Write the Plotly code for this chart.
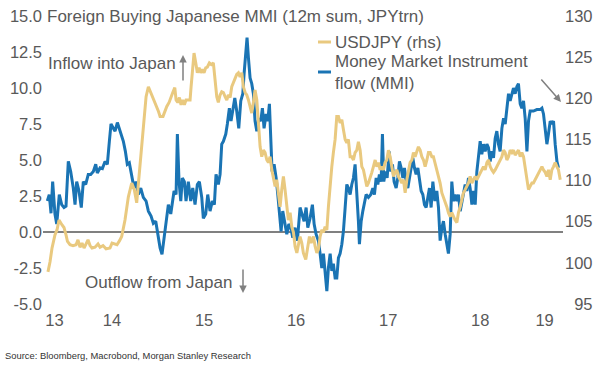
import plotly.graph_objects as go

# ---------------- data ----------------
# time as decimal years
mmi_t = [
    2013.797, 2013.818, 2013.837, 2013.855, 2013.880, 2013.899, 2013.927, 2013.953, 2013.978, 2014.000,
    2014.025, 2014.051, 2014.079, 2014.098, 2014.116, 2014.141, 2014.166, 2014.188, 2014.214, 2014.242,
    2014.268, 2014.297, 2014.323, 2014.340, 2014.370, 2014.395, 2014.424, 2014.449, 2014.471, 2014.489,
    2014.514, 2014.533, 2014.558, 2014.579, 2014.601, 2014.623, 2014.645, 2014.666, 2014.688, 2014.714,
    2014.739, 2014.761, 2014.786, 2014.812, 2014.840, 2014.870, 2014.895, 2014.924, 2014.949, 2014.975,
    2014.997, 2015.022, 2015.043, 2015.065, 2015.087, 2015.112, 2015.138, 2015.174, 2015.196, 2015.210,
    2015.228, 2015.247, 2015.264, 2015.286, 2015.304, 2015.329, 2015.355, 2015.377, 2015.402, 2015.427,
    2015.449, 2015.475, 2015.492, 2015.518, 2015.540, 2015.565, 2015.590, 2015.612, 2015.630, 2015.655,
    2015.674, 2015.692, 2015.710, 2015.736, 2015.753, 2015.775, 2015.793, 2015.812, 2015.834, 2015.855,
    2015.877, 2015.899, 2015.921, 2015.935, 2015.953, 2015.967, 2015.982, 2016.000, 2016.018, 2016.036,
    2016.054, 2016.073, 2016.095, 2016.116, 2016.134, 2016.152, 2016.174, 2016.192, 2016.210, 2016.225,
    2016.239, 2016.261, 2016.283, 2016.301, 2016.318, 2016.337, 2016.355, 2016.377, 2016.399, 2016.421,
    2016.442, 2016.464, 2016.489, 2016.514, 2016.543, 2016.587, 2016.609, 2016.627, 2016.652, 2016.677,
    2016.696, 2016.717, 2016.742, 2016.761, 2016.779, 2016.797, 2016.815, 2016.834, 2016.851, 2016.870,
    2016.888, 2016.905, 2016.924, 2016.942, 2016.960, 2016.978, 2016.997, 2017.014, 2017.033, 2017.051,
    2017.068, 2017.087, 2017.105, 2017.123, 2017.141, 2017.160, 2017.177, 2017.188, 2017.207, 2017.225,
    2017.242, 2017.261, 2017.286, 2017.312, 2017.334, 2017.351, 2017.370, 2017.388, 2017.405, 2017.424,
    2017.438, 2017.453, 2017.471, 2017.489, 2017.511, 2017.529, 2017.547, 2017.565, 2017.587, 2017.605,
    2017.623, 2017.641, 2017.660, 2017.677, 2017.696, 2017.714, 2017.732, 2017.750, 2017.768, 2017.786,
    2017.804, 2017.823, 2017.840, 2017.859, 2017.877, 2017.895, 2017.913, 2017.932, 2017.949, 2017.967,
    2017.986, 2018.008, 2018.029, 2018.047, 2018.065, 2018.084, 2018.101, 2018.120, 2018.138, 2018.155,
    2018.174, 2018.192, 2018.210, 2018.228, 2018.247, 2018.264, 2018.283, 2018.301, 2018.318, 2018.337,
    2018.355, 2018.373, 2018.391, 2018.410, 2018.427, 2018.446, 2018.464, 2018.482, 2018.500, 2018.518,
    2018.536, 2018.554, 2018.573, 2018.590, 2018.609, 2018.627, 2018.645, 2018.663, 2018.681, 2018.699,
    2018.717, 2018.736, 2018.754, 2018.772, 2018.790, 2018.808, 2018.826, 2018.845, 2018.862, 2018.880,
    2018.899, 2018.916, 2018.935, 2018.953, 2018.971, 2018.989, 2019.008, 2019.025, 2019.043, 2019.079,
    2019.116, 2019.152, 2019.171, 2019.188, 2019.207, 2019.225, 2019.242, 2019.261, 2019.279, 2019.297,
    2019.315, 2019.334, 2019.351,
]
mmi_flow = [
    2.15, 2.6, 1.3, 3.5, 1.25, 0.55, 2.6, 1.9, 1.7, 1.8,
    4.9, 4.2, 3.05, 1.9, 3.5, 2.85, 1.7, 3.5, 3.3, 4.0,
    4.0, 4.2, 4.7, 4.1, 4.45, 4.4, 4.9, 4.7, 6.3, 7.5,
    7.2, 7.0, 7.6, 7.2, 6.8, 6.3, 5.6, 4.7, 4.8, 4.0,
    3.05, 3.5, 2.6, 3.05, 2.4, 2.15, 1.45, 1.1, 0.6, 0.75,
    -0.15, -1.1, -1.55, -0.4, 0.95, 1.9, 1.25, 2.85, 2.6, 6.8,
    3.5, 2.15, 3.75, 3.5, 2.15, 3.5, 2.15, 3.05, 1.9, 3.3,
    3.5, 2.4, 0.95, 1.25, 2.6, 1.45, 2.15, 1.9, 4.0, 3.3,
    4.0, 6.1, 6.3, 6.8, 7.5, 8.6, 7.7, 8.4, 9.3, 8.4,
    7.2, 9.1, 9.6, 11.0, 12.4, 13.5, 12.1, 10.7, 10.3, 9.6,
    7.7, 7.0, 7.9, 7.7, 8.6, 7.2, 8.2, 7.7, 8.9, 6.3,
    4.2, 4.7, 3.75, 2.6, 1.25, 0.05, 1.45, 0.75, -0.15, 0.55,
    0.3, -0.4, 0.3, -0.6, 1.7, 0.75, 1.7, 0.3, 0.95, 1.9,
    0.55, -0.15, -0.6, -1.5, -2.5, -1.5, -2.9, -4.1, -2.5, -1.5,
    -2.7, -2.2, -3.2, -3.2, -1.8, -1.5, -0.85, 0.05, 1.7, 3.3,
    3.05, 2.6, 3.3, 3.75, 4.7, 2.85, 0.75, -0.85, 0.75, 1.45,
    2.15, 2.6, 2.4, 2.6, 3.05, 2.6, 3.75, 3.3, 4.0, 3.5,
    6.8, 3.5, 4.2, 3.75, 5.6, 4.2, 4.7, 3.5, 3.05, 3.75,
    4.9, 4.45, 3.75, 4.45, 3.5, 3.05, 3.75, 4.45, 5.15, 4.45,
    4.0, 4.45, 3.5, 2.85, 2.6, 1.9, 1.7, 2.6, 3.05, 1.7,
    3.5, 2.15, 2.85, 1.7, -0.6, 0.3, 0.75, -0.15, -0.85, -1.5,
    -0.15, 3.5, 2.15, 2.6, 2.15, 2.6, 1.45, 2.15, 2.85, 3.3,
    2.85, 3.75, 3.05, 1.9, 2.85, 1.9, 4.2, 5.15, 6.3, 5.4,
    6.1, 5.6, 6.1, 5.85, 4.9, 5.6, 5.15, 6.5, 7.0, 6.1,
    5.6, 7.2, 7.9, 7.5, 8.6, 9.6, 9.1, 9.6, 10.0, 9.6,
    10.1, 10.3, 8.9, 8.6, 9.1, 7.9, 5.6, 7.7, 8.4, 8.4,
    8.5, 8.5, 8.6, 8.2, 7.2, 6.1, 6.8, 7.7, 7.5, 7.7,
    6.1, 4.9, 4.45,
]

usd_t = [
    2013.804, 2013.826, 2013.848, 2013.880, 2013.902, 2013.924, 2013.957, 2013.978, 2014.000, 2014.016,
    2014.043, 2014.076, 2014.109, 2014.130, 2014.152, 2014.174, 2014.196, 2014.217, 2014.239, 2014.261,
    2014.283, 2014.315, 2014.348, 2014.370, 2014.402, 2014.435, 2014.478, 2014.500, 2014.522, 2014.554,
    2014.582, 2014.605, 2014.641, 2014.677, 2014.714, 2014.742, 2014.768, 2014.797, 2014.823, 2014.848,
    2014.870, 2014.895, 2014.924, 2014.946, 2014.967, 2014.986, 2015.005, 2015.022, 2015.054, 2015.095,
    2015.120, 2015.160, 2015.182, 2015.196, 2015.214, 2015.232, 2015.250, 2015.268, 2015.286, 2015.304,
    2015.329, 2015.348, 2015.359, 2015.377, 2015.391, 2015.410, 2015.427, 2015.446, 2015.464, 2015.482,
    2015.500, 2015.518, 2015.536, 2015.558, 2015.579, 2015.601, 2015.620, 2015.638, 2015.655, 2015.674,
    2015.692, 2015.710, 2015.728, 2015.747, 2015.764, 2015.783, 2015.801, 2015.818, 2015.837, 2015.855,
    2015.873, 2015.891, 2015.910, 2015.927, 2015.946, 2015.964, 2015.982, 2016.000, 2016.018, 2016.036,
    2016.054, 2016.073, 2016.090, 2016.109, 2016.127, 2016.145, 2016.163, 2016.182, 2016.199, 2016.217,
    2016.236, 2016.253, 2016.272, 2016.290, 2016.308, 2016.326, 2016.344, 2016.362, 2016.380, 2016.399,
    2016.416, 2016.435, 2016.453, 2016.471, 2016.489, 2016.508, 2016.525, 2016.543, 2016.562, 2016.579,
    2016.605, 2016.627, 2016.645, 2016.663, 2016.688, 2016.707, 2016.725, 2016.742, 2016.761, 2016.779,
    2016.797, 2016.815, 2016.834, 2016.851, 2016.870, 2016.888, 2016.905, 2016.924, 2016.942, 2016.960,
    2016.978, 2016.997, 2017.014, 2017.033, 2017.051, 2017.068, 2017.087, 2017.105, 2017.123, 2017.141,
    2017.160, 2017.177, 2017.196, 2017.214, 2017.232, 2017.250, 2017.268, 2017.286, 2017.304, 2017.323,
    2017.340, 2017.359, 2017.377, 2017.395, 2017.413, 2017.431, 2017.449, 2017.467, 2017.486, 2017.503,
    2017.522, 2017.540, 2017.558, 2017.576, 2017.595, 2017.612, 2017.630, 2017.649, 2017.666, 2017.685,
    2017.703, 2017.721, 2017.739, 2017.758, 2017.775, 2017.793, 2017.812, 2017.829, 2017.848, 2017.866,
    2017.884, 2017.902, 2017.921, 2017.938, 2017.957, 2017.975, 2017.992, 2018.029, 2018.065, 2018.084,
    2018.101, 2018.120, 2018.138, 2018.155, 2018.174, 2018.192, 2018.210, 2018.228, 2018.247, 2018.264,
    2018.283, 2018.301, 2018.318, 2018.337, 2018.355, 2018.373, 2018.391, 2018.410, 2018.427, 2018.446,
    2018.464, 2018.482, 2018.500, 2018.518, 2018.536, 2018.554, 2018.573, 2018.590, 2018.609, 2018.627,
    2018.645, 2018.663, 2018.681, 2018.699, 2018.717, 2018.736, 2018.754, 2018.772, 2018.790, 2018.808,
    2018.826, 2018.845, 2018.862, 2018.880, 2018.899, 2018.916, 2018.935, 2018.953, 2018.971, 2018.989,
    2019.008, 2019.025, 2019.043, 2019.062, 2019.079, 2019.098, 2019.116, 2019.134, 2019.152, 2019.171,
    2019.188, 2019.207, 2019.225, 2019.242, 2019.261, 2019.279, 2019.297, 2019.315, 2019.334, 2019.351,
    2019.370,
]
usdjpy = [
    98.9, 100.1, 101.8, 103.4, 104.0, 105.2, 104.6, 104.3, 103.4, 102.6,
    102.2, 102.1, 102.2, 102.8, 101.9, 102.4, 101.8, 102.4, 102.8, 102.1,
    101.8, 101.9, 102.3, 101.9, 102.1, 101.7, 101.8, 102.4, 102.3, 102.2,
    102.7, 103.2, 105.2, 108.0, 109.7, 108.9, 107.3, 111.0, 115.0, 118.2,
    120.2, 121.4, 120.6, 120.2, 119.6, 119.0, 118.4, 117.8, 117.8, 119.0,
    119.5, 120.7, 121.3, 119.8, 119.5, 120.1, 119.2, 119.8, 119.2, 119.8,
    119.8, 119.8, 121.4, 123.8, 125.5, 124.3, 123.1, 123.7, 123.1, 123.5,
    123.1, 123.7, 123.8, 124.3, 124.1, 124.3, 121.9, 120.2, 119.5, 120.4,
    120.8, 120.7, 120.2, 119.8, 120.4, 120.1, 121.4, 121.9, 122.6, 122.9,
    123.1, 122.6, 123.1, 121.4, 120.7, 120.4, 119.8, 119.0, 118.2, 119.5,
    121.0, 119.8, 116.5, 114.1, 112.9, 113.7, 113.4, 112.5, 112.2, 112.9,
    111.3, 110.5, 109.3, 110.1, 108.0, 106.8, 108.9, 110.5, 108.9, 106.8,
    105.2, 106.1, 104.4, 103.7, 102.0, 101.2, 102.0, 103.2, 102.4, 101.2,
    100.4, 102.0, 103.2, 102.4, 103.2, 102.0, 101.2, 101.6, 103.2, 104.0,
    103.7, 104.4, 104.0, 106.8, 109.7, 111.7, 113.4, 115.0, 117.8, 117.8,
    117.0, 117.4, 116.2, 115.0, 114.6, 115.0, 112.9, 112.9, 112.5, 113.4,
    113.7, 114.7, 113.7, 111.7, 111.3, 110.1, 109.3, 109.7, 110.5, 111.0,
    111.7, 112.5, 111.7, 112.2, 111.3, 111.7, 111.3, 112.2, 112.5, 113.7,
    112.9, 111.7, 110.5, 111.0, 111.3, 110.5, 110.1, 109.7, 110.1, 108.5,
    110.1, 111.3, 112.2, 112.5, 113.4, 112.9, 113.7, 114.1, 113.7, 112.9,
    112.5, 111.7, 112.5, 113.4, 113.4, 112.9, 112.9, 111.3, 109.7, 108.5,
    108.0, 107.3, 106.8, 106.1, 105.6, 106.1, 105.6, 105.2, 104.9, 106.1,
    106.8, 107.7, 108.5, 108.9, 109.3, 109.7, 110.5, 109.7, 110.1, 110.5,
    110.1, 110.5, 111.0, 111.3, 111.7, 111.3, 112.2, 112.5, 111.7, 111.3,
    111.0, 111.3, 111.7, 112.2, 112.5, 112.9, 113.7, 113.4, 112.5, 112.9,
    113.7, 113.4, 113.7, 113.1, 113.4, 113.7, 112.9, 113.4, 112.9, 111.7,
    110.1, 108.9, 109.3, 109.7, 109.7, 110.1, 110.5, 111.0, 111.3, 111.7,
    111.3, 111.0, 110.5, 111.3, 110.1, 111.3, 111.7, 112.2, 111.7, 111.3,
    110.1,
]

years = [2013, 2014, 2015, 2016, 2017, 2018, 2019]
year_labels = ["13", "14", "15", "16", "17", "18", "19"]
left_ticks = [-5.0, -2.5, 0.0, 2.5, 5.0, 7.5, 10.0, 12.5, 15.0]
left_labels = ["-5.0", "-2.5", "0.0", "2.5", "5.0", "7.5", "10.0", "12.5", "15.0"]
right_ticks = [95, 100, 105, 110, 115, 120, 125, 130]
right_labels = ["\u200795", "100", "105", "110", "115", "120", "125", "130"]

assert len(mmi_t) == len(mmi_flow)
assert len(usd_t) == len(usdjpy)

# ---------------- styling ----------------
BLUE = "#1a74b4"
TAN = "#e9c97f"
GREY_TXT = "#595959"
GREY_LINE = "#808080"
FONT = "Liberation Sans, Arial, sans-serif"
FS = 16.5

x_range = [2013.75, 2019.40]
# label each year at the centre of its visible part
tick_pos = []
for y in years:
    lo = max(y, x_range[0])
    hi = min(y + 1, x_range[1])
    tick_pos.append((lo + hi) / 2)

fig = go.Figure()
fig.add_trace(go.Scatter(x=mmi_t, y=mmi_flow, mode="lines", name="Money Market Instrument flow (MMI)",
                         line=dict(color=BLUE, width=3), yaxis="y"))
fig.add_trace(go.Scatter(x=usd_t, y=usdjpy, mode="lines", name="USDJPY (rhs)",
                         line=dict(color=TAN, width=3), yaxis="y2"))

fig.update_layout(
    width=602, height=373,
    margin=dict(l=43, r=39, t=16, b=69),
    paper_bgcolor="white", plot_bgcolor="white",
    showlegend=False,
    hovermode=False,
    font=dict(family=FONT, size=FS, color=GREY_TXT),
    xaxis=dict(range=x_range, showgrid=False, zeroline=False, showline=False, automargin=False,
               tickmode="array", tickvals=tick_pos, ticktext=year_labels,
               ticks="", ticklabelstandoff=4, tickfont=dict(size=FS, color=GREY_TXT)),
    yaxis=dict(range=[-5, 15], showgrid=False, zeroline=True, zerolinecolor=GREY_LINE,
               zerolinewidth=1.5, showline=False, automargin=False, tickmode="array",
               tickvals=left_ticks, ticktext=left_labels, ticks="", ticklabelstandoff=0,
               tickfont=dict(size=FS, color=GREY_TXT)),
    yaxis2=dict(range=[95, 130], overlaying="y", side="right", showgrid=False, zeroline=False,
                showline=False, automargin=False, tickmode="array", tickvals=right_ticks,
                ticktext=right_labels, ticks="", ticklabelstandoff=1,
                tickfont=dict(size=FS, color=GREY_TXT)),
)

def px_x(p):
    return (p - 43) / 520.0

def px_y(p):
    return (304 - p) / 288.0

annotations = [
    dict(text="Foreign Buying Japanese MMI (12m sum, JPYtrn)", x=px_x(45), y=px_y(16),
         xanchor="left", yanchor="middle", font=dict(size=17, color=GREY_TXT)),
    dict(text="USDJPY (rhs)", x=px_x(333), y=px_y(42), xanchor="left", yanchor="middle",
         font=dict(size=17, color=GREY_TXT)),
    dict(text="Money Market Instrument<br>flow (MMI)", x=px_x(333), y=px_y(72), xanchor="left",
         yanchor="middle", align="left", font=dict(size=17, color=GREY_TXT)),
    dict(text="Inflow into Japan", x=px_x(46), y=px_y(64), xanchor="left", yanchor="middle",
         font=dict(size=17, color=GREY_TXT)),
    dict(text="Outflow from Japan", x=px_x(83), y=px_y(282), xanchor="left", yanchor="middle",
         font=dict(size=17, color=GREY_TXT)),
    dict(text="Source: Bloomberg, Macrobond, Morgan Stanley Research", x=px_x(3), y=px_y(355),
         xanchor="left", yanchor="middle",
         font=dict(family=FONT, size=9.4, color="#333333")),
    # arrows
    dict(text="", x=px_x(183), y=px_y(55), ax=0, ay=27, showarrow=True, arrowhead=2,
         arrowsize=1, arrowwidth=1.5, arrowcolor=GREY_LINE),
    dict(text="", x=px_x(243), y=px_y(293), ax=0, ay=-25, showarrow=True, arrowhead=2,
         arrowsize=1, arrowwidth=1.5, arrowcolor=GREY_LINE),
    dict(text="", x=px_x(561), y=px_y(102), ax=-21, ay=-24, showarrow=True, arrowhead=2,
         arrowsize=1, arrowwidth=1.5, arrowcolor=GREY_LINE),
]
for a in annotations:
    a.setdefault("showarrow", False)
    a["xref"] = "paper"
    a["yref"] = "paper"
fig.update_layout(annotations=annotations)

# legend swatches
fig.add_shape(type="line", xref="paper", yref="paper", x0=px_x(318), x1=px_x(331),
              y0=px_y(42), y1=px_y(42), line=dict(color=TAN, width=3))
fig.add_shape(type="line", xref="paper", yref="paper", x0=px_x(318), x1=px_x(331),
              y0=px_y(72), y1=px_y(72), line=dict(color=BLUE, width=3))

# remove the browser's default page margin so the figure sits at (0, 0)
fig.write_html("out.html",
               config={"displayModeBar": False, "staticPlot": True},
               post_script="document.body.style.margin='0';document.body.style.overflow='hidden';")
